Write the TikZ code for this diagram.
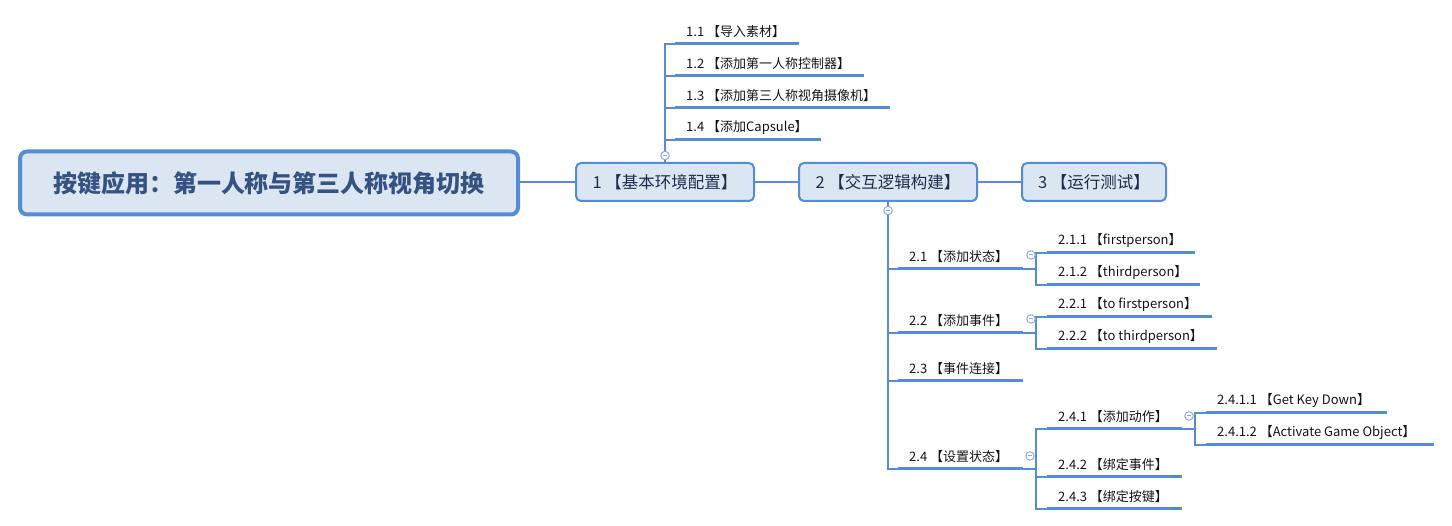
\documentclass[tikz,border=0pt]{standalone}
\usepackage{fontspec}
\setmainfont{Noto Sans CJK SC}
\definecolor{lc}{RGB}{86,140,212}
\definecolor{bf}{RGB}{220,230,242}
\definecolor{bt}{RGB}{30,45,75}
\definecolor{rt}{RGB}{52,82,130}
\definecolor{tc}{RGB}{20,20,20}
\definecolor{tg}{RGB}{140,172,222}
\newcommand\topic[6]{%
  \coordinate (#1l) at (#2,#4);
  \coordinate (#1r) at (#3,#4);
  \draw[ul] (#1l) -- (#1r);
  \node[lbl] (#1) at ({#5},{#4-12.5}) {#6};}
\newcommand\toggle[3]{%
  \node[tog] (#1) at (#2,#3) {};
  \draw[tg, line width=1pt] ([xshift=-2.2pt]#1.center) -- ([xshift=2.2pt]#1.center);}
\begin{document}
\begin{tikzpicture}[x=1pt,y=-1pt,
  ln/.style={draw=lc, line width=1.3pt},
  ul/.style={draw=lc, line width=3pt},
  lbl/.style={font=\fontsize{13}{15}\selectfont, text=tc, inner sep=0pt, anchor=west},
  boxs/.style={draw=lc, line width=2pt, fill=bf, rounded corners=5pt, minimum height=38pt, inner sep=0pt, font=\fontsize{16.5}{19}\selectfont, text=bt},
  tog/.style={circle, draw=tg, fill=white, line width=1pt, minimum size=8.5pt, inner sep=0pt}]
\useasboundingbox (0,0) rectangle (1452,526);
% root and main boxes
\node[draw=lc, line width=4pt, fill=bf, rounded corners=7pt, minimum width=498pt, minimum height=63pt, inner sep=0pt,
      font=\fontsize{24}{28}\selectfont\bfseries, text=rt] (root) at (269,183) {按键应用：第一人称与第三人称视角切换};
\node[boxs, minimum width=178pt] (b1) at (665,182) {1 【基本环境配置】};
\node[boxs, minimum width=178pt] (b2) at (888,182) {2 【交互逻辑构建】};
\node[boxs, minimum width=144pt] (b3) at (1094,182) {3 【运行测试】};
\draw[ln] (b1.west -| root.east) -- (b1.west);
\draw[ln] (b1.east) -- (b2.west);
\draw[ln] (b2.east) -- (b3.west);
% branch 1
\topic{t11}{675}{799}{44}{686}{1.1 【导入素材】}
\topic{t12}{675}{864}{76}{686}{1.2 【添加第一人称控制器】}
\topic{t13}{675}{890}{108}{686}{1.3 【添加第三人称视角摄像机】}
\topic{t14}{675}{821}{140}{686}{1.4 【添加Capsule】}
\toggle{g1}{665}{155.5}
\draw[ln] (g1.south) -- (g1.south |- b1.north);
\draw[ln] (g1.north) |- (t11l);
\draw[ln] (g1.north) |- (t12l);
\draw[ln] (g1.north) |- (t13l);
\draw[ln] (g1.north) |- (t14l);
% branch 2
\topic{t21}{898}{1023}{269}{909}{2.1 【添加状态】}
\topic{t22}{898}{1023}{333}{909}{2.2 【添加事件】}
\topic{t23}{898}{1023}{381}{909}{2.3 【事件连接】}
\topic{t24}{898}{1023}{469}{909}{2.4 【设置状态】}
\toggle{g2}{888}{210.5}
\draw[ln] (g2.north) -- (g2.north |- b2.south);
\draw[ln] (g2.south) |- (t24l);
\draw[ln] (g2.south) |- (t21l);
\draw[ln] (g2.south) |- (t22l);
\draw[ln] (g2.south) |- (t23l);
% 2.1
\topic{t211}{1047}{1195}{253}{1058}{2.1.1 【firstperson】}
\topic{t212}{1047}{1200}{285}{1058}{2.1.2 【thirdperson】}
\coordinate (j21) at (1036,269);
\draw[ln] (t21r) -- (j21) |- (t211l);
\draw[ln] (j21) |- (t212l);
\toggle{g21}{1031}{255}
% 2.2
\topic{t221}{1047}{1212}{317}{1058}{2.2.1 【to firstperson】}
\topic{t222}{1047}{1217}{349}{1058}{2.2.2 【to thirdperson】}
\coordinate (j22) at (1036,333);
\draw[ln] (t22r) -- (j22) |- (t221l);
\draw[ln] (j22) |- (t222l);
\toggle{g22}{1031}{319}
% 2.4
\topic{t241}{1047}{1182}{429}{1058}{2.4.1 【添加动作】}
\topic{t242}{1047}{1182}{477}{1058}{2.4.2 【绑定事件】}
\topic{t243}{1047}{1182}{509}{1058}{2.4.3 【绑定按键】}
\coordinate (j24) at (1036,469);
\draw[ln] (t24r) -- (j24) |- (t241l);
\draw[ln] (j24) |- (t242l);
\draw[ln] (j24) |- (t243l);
\toggle{g24}{1030}{456}
% 2.4.1
\topic{t2411}{1206}{1387}{413}{1217}{2.4.1.1 【Get Key Down】}
\topic{t2412}{1206}{1434}{445}{1217}{2.4.1.2 【Activate Game Object】}
\coordinate (j241) at (1195,429);
\draw[ln] (t241r) -- (j241) |- (t2411l);
\draw[ln] (j241) |- (t2412l);
\toggle{g241}{1189}{416}
\end{tikzpicture}
\end{document}
